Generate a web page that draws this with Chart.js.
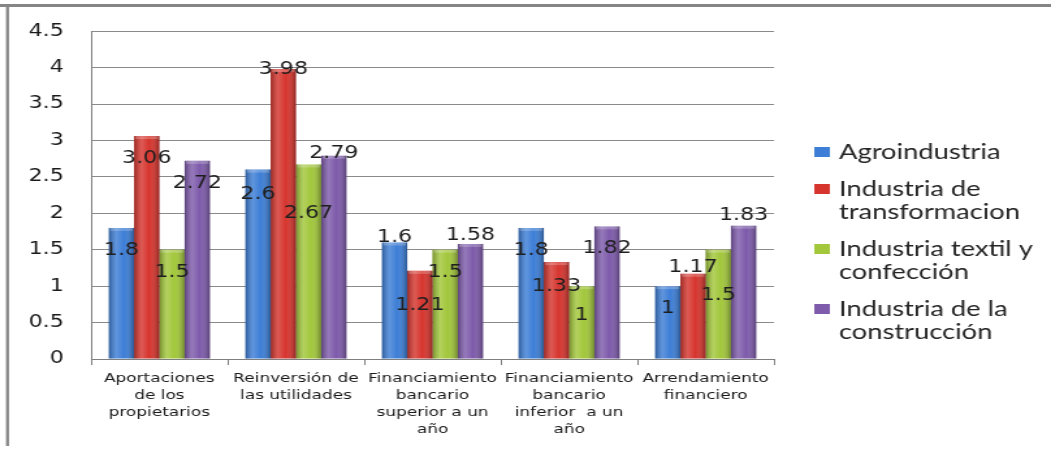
<!DOCTYPE html>
<html>
<head>
<meta charset="utf-8">
<script src="https://cdn.jsdelivr.net/npm/chart.js@4.4.0/dist/chart.umd.min.js"></script>
<style>
  html, body { margin: 0; padding: 0; background: #fff; overflow: hidden; }
</style>
</head>
<body>
<!-- the original picture is stretched sideways, so the canvas is too -->
<canvas id="grafico" width="808" height="449" style="width:1051px;height:449px;display:block"></canvas>
<script>
const categorias = [
  ["Aportaciones", "de los", "propietarios"],
  ["Reinversión de", "las utilidades"],
  ["Financiamiento", "bancario", "superior a un", "año"],
  ["Financiamiento", "bancario", "inferior  a un", "año"],
  ["Arrendamiento", "financiero"],
];
const agroindustria = [1.8, 2.6, 1.6, 1.8, 1];
const transformacion = [3.06, 3.98, 1.21, 1.33, 1.17];
const textil = [1.5, 2.67, 1.5, 1, 1.5];
const construccion = [2.72, 2.79, 1.58, 1.82, 1.83];
const nombresSeries = [
  ["Agroindustria"],
  ["Industria de", "transformacion"],
  ["Industria textil y", "confección"],
  ["Industria de la", "construcción"],
];
const ticksY = [0, 0.5, 1, 1.5, 2, 2.5, 3, 3.5, 4, 4.5];

const coloresSeries = ["#3d7ed6", "#d6352e", "#a2c73b", "#7e5bab"];
// where each value label sits, in px below the top of its bar
const desplazamientoEtiqueta = [
  [23, 25, -5, 23, 22],
  [22, 0, 35, 24, -6],
  [23, 49, 23, 29, 46],
  [23, -2, -8, 22, -10],
];

const marcoPlugin = {
  id: "marco",
  beforeDraw(chart) {
    const ctx = chart.ctx;
    ctx.save();
    ctx.fillStyle = "#fff";
    ctx.fillRect(0, 0, chart.width, chart.height);
    ctx.fillStyle = "#858585";
    ctx.fillRect(0, 4, chart.width, 3);
    ctx.fillRect(4.6, 4, 2.3, 442);
    ctx.restore();
  },
};

const barrasPlugin = {
  id: "barras",
  afterDatasetsDraw(chart) {
    const ctx = chart.ctx;
    ctx.save();
    // cylinder-ish shading on every bar, with a lighter cap on top
    chart.data.datasets.forEach((ds, i) => {
      chart.getDatasetMeta(i).data.forEach((bar) => {
        const izq = bar.x - bar.width / 2;
        const g = ctx.createLinearGradient(izq, 0, izq + bar.width, 0);
        g.addColorStop(0, "rgba(0,0,0,0.28)");
        g.addColorStop(0.3, "rgba(255,255,255,0.18)");
        g.addColorStop(0.6, "rgba(255,255,255,0)");
        g.addColorStop(1, "rgba(0,0,0,0.32)");
        ctx.fillStyle = g;
        ctx.fillRect(izq, bar.y, bar.width, bar.base - bar.y);
        ctx.fillStyle = "rgba(255,255,255,0.22)";
        ctx.fillRect(izq + 1, bar.y, bar.width - 2, 3);
      });
    });
    // value labels
    ctx.font = '17px "DejaVu Sans"';
    ctx.fillStyle = "#1e1e1e";
    ctx.textAlign = "center";
    ctx.textBaseline = "middle";
    chart.data.datasets.forEach((ds, i) => {
      chart.getDatasetMeta(i).data.forEach((bar, j) => {
        ctx.fillText(String(ds.data[j]), bar.x, bar.y + desplazamientoEtiqueta[i][j]);
      });
    });
    ctx.restore();
  },
};

const leyendaPlugin = {
  id: "leyenda",
  afterDraw(chart) {
    const ctx = chart.ctx;
    ctx.save();
    ctx.font = "21px Lato";
    ctx.textBaseline = "middle";
    let y = 152;
    nombresSeries.forEach((lineas, i) => {
      ctx.fillStyle = coloresSeries[i];
      ctx.fillRect(626, y - 5, 12, 10);
      ctx.fillStyle = "#262626";
      lineas.forEach((t, k) => ctx.fillText(t, 645, y + k * 23));
      y += lineas.length * 23 + 14;
    });
    ctx.restore();
  },
};

const series = [agroindustria, transformacion, textil, construccion];

const grafico = new Chart(document.querySelector("#grafico").getContext("2d"), {
  type: "bar",
  data: {
    labels: categorias,
    datasets: series.map((valores, i) => ({
      label: nombresSeries[i].join(" "),
      data: valores,
      backgroundColor: coloresSeries[i],
      borderWidth: 0,
      barPercentage: 1,
      categoryPercentage: 0.74,
    })),
  },
  options: {
    responsive: false,
    animation: false,
    layout: { padding: { top: 29, right: 213, bottom: 0, left: 0 } },
    plugins: {
      legend: { display: false },
      tooltip: { enabled: false },
    },
    scales: {
      x: {
        grid: {
          display: true,
          drawOnChartArea: false,
          drawTicks: true,
          tickLength: 6,
          color: "#7f7f7f",
          offset: true,
        },
        border: { color: "#7f7f7f" },
        ticks: {
          font: { family: "DejaVu Sans", size: 13, lineHeight: 1.3 },
          color: "#1a1a1a",
          padding: 5,
          maxRotation: 0,
          autoSkip: false,
        },
        afterFit: (s) => { s.height = 90; },
      },
      y: {
        min: 0,
        max: 4.5,
        afterBuildTicks: (s) => { s.ticks = ticksY.map((v) => ({ value: v })); },
        ticks: {
          font: { family: "DejaVu Sans", size: 17 },
          color: "#1a1a1a",
          padding: 21,
          callback: (v) => String(v),
        },
        grid: { color: "#8a8a8a", drawTicks: false },
        border: { color: "#7f7f7f" },
        afterFit: (s) => { s.width = 70; },
      },
    },
  },
  plugins: [marcoPlugin, barrasPlugin, leyendaPlugin],
});
</script>
</body>
</html>
